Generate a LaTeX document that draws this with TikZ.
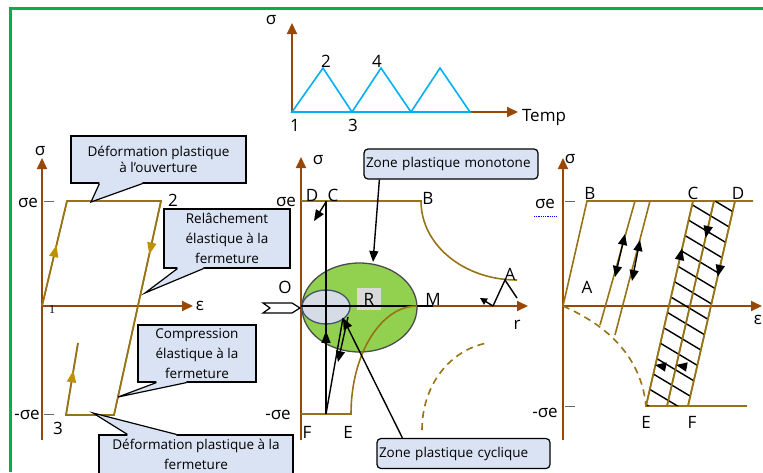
\documentclass[tikz,border=0pt]{standalone}
\usepackage{fontspec}
\setmainfont{Open Sans}
\newfontfamily\numserif{Liberation Serif}
\usetikzlibrary{arrows.meta,decorations.markings}
\definecolor{axbrown}{RGB}{152,72,6}
\definecolor{loopgold}{RGB}{150,115,20}
\definecolor{tipgold}{RGB}{191,144,0}
\definecolor{wave}{RGB}{0,176,240}
\definecolor{framegreen}{RGB}{0,176,80}
\definecolor{callfill}{RGB}{218,227,243}
\definecolor{zonegreen}{RGB}{146,208,80}
\definecolor{zonegray}{RGB}{214,220,229}
\definecolor{slate}{RGB}{68,84,106}

\begin{document}
\begin{tikzpicture}[x=1pt, y=-1pt, every node/.style={font=\fontsize{17}{19}\selectfont, inner sep=0pt}, >={Triangle[length=11pt, width=9pt]},
	axis/.style={draw=axbrown, line width=2pt, -{Triangle[length=11pt, width=10pt]}},
	cyc/.style={draw=loopgold, line width=1.6pt},
	blk/.style={draw=black, line width=1.4pt},
	tick/.style={draw=black!60, line width=1pt},
	bub/.style={draw=black, fill=callfill, line width=1.2pt, align=center, font=\fontsize{13.5}{20}\selectfont},
	zone/.style={bub, rounded corners=4pt, align=left, text width=#1, inner sep=2pt, minimum height=30pt},
	midtip/.style 2 args={postaction={decorate}, decoration={markings, mark=at position #1 with {\arrow{Triangle[length=12pt, width=9pt, color=#2]}}}}]
	\useasboundingbox (0,0) rectangle (763,472);
	\clip (0,0) rectangle (763,472);
	\draw[framegreen, line width=3pt] (10,472) -- (10,8.5) -- (763,8.5);

	\draw[axis] (292,112) -- (292,23);
	\draw[axis] (292,112) -- (518,112);
	\draw[wave, line width=1.6pt] (292,112) -- (323,68) -- (352,112) -- (381,68) -- (411,112) -- (440,68) -- (470,112) -- cycle;
	\node (tsig) at (271,20) {σ};
	\node (ttemp) at (544,117) {Temp};
	\node (t1) at (295,125) {1};
	\node (t2) at (326,61) {2};
	\node (t3) at (353,125) {3};
	\node (t4) at (377,61) {4};

	\draw[axis] (42,440) -- (42,158);
	\draw[axis] (42,306) -- (193,306);
	\draw[tick] (44,201) -- (54,201);
	\draw[tick] (44,414) -- (54,414);
	\draw[cyc] (42,306) -- (67,201) -- (161,201) -- (114,415) -- (66,415) -- (78,343);
	\draw[cyc, midtip={0.58}{tipgold}] (42,306) -- (67,201);
	\draw[cyc, midtip={0.25}{tipgold}] (161,201) -- (114,415);
	\draw[cyc, midtip={0.62}{tipgold}] (66,415) -- (78,343);
	\node (lsig) at (40,151) {σ};
	\node (lse) at (28,203) {σe};
	\node (lmse) at (27,415) {-σe};
	\node (leps) at (200,306) {ε};
	\node (l1) at (52,310) {\numserif\fontsize{12}{12}\selectfont 1};
	\node (l2) at (173,200) {2};
	\node (l3) at (58,428) {3};

	\node[bub, font=\fontsize{13.5}{16}\selectfont, minimum width=175pt, minimum height=47pt] (defouv) at (158.5,159.5) {Déformation plastique\\à l’ouverture};
	\coordinate (defouvtip) at (91,202);
	\fill[callfill] ([xshift=29pt,yshift=2pt]defouv.south west) -- ([xshift=29pt]defouv.south west) -- (defouvtip) -- ([xshift=72pt]defouv.south west) -- ([xshift=72pt,yshift=2pt]defouv.south west) -- cycle;
	\draw[line width=1.2pt] ([xshift=29pt]defouv.south west) -- (defouvtip) -- ([xshift=72pt]defouv.south west);

	\node[bub, minimum width=126pt, minimum height=59pt] (relach) at (227,238.5) {Relâchement\\élastique à la\\fermeture};
	\coordinate (relachtip) at (145,293);
	\fill[callfill] ([xshift=14pt,yshift=2pt]relach.south west) -- ([xshift=14pt]relach.south west) -- (relachtip) -- ([xshift=40pt]relach.south west) -- ([xshift=40pt,yshift=2pt]relach.south west) -- cycle;
	\draw[line width=1.2pt] ([xshift=14pt]relach.south west) -- (relachtip) -- ([xshift=40pt]relach.south west);

	\node[bub, minimum width=118pt, minimum height=57pt] (compr) at (197,353.5) {Compression\\élastique à la\\fermeture};
	\coordinate (comprtip) at (118,397);
	\fill[callfill] ([xshift=19pt,yshift=2pt]compr.south west) -- ([xshift=19pt]compr.south west) -- (comprtip) -- ([xshift=49pt]compr.south west) -- ([xshift=49pt,yshift=2pt]compr.south west) -- cycle;
	\draw[line width=1.2pt] ([xshift=19pt]compr.south west) -- (comprtip) -- ([xshift=49pt]compr.south west);

	\node[bub, minimum width=194pt, minimum height=39pt] (defferm) at (196,454.5) {Déformation plastique à la\\fermeture};
	\coordinate (defferntip) at (93,413);
	\fill[callfill] ([xshift=29pt,yshift=-2pt]defferm.north west) -- ([xshift=29pt]defferm.north west) -- (defferntip) -- ([xshift=78pt]defferm.north west) -- ([xshift=78pt,yshift=-2pt]defferm.north west) -- cycle;
	\draw[line width=1.2pt] ([xshift=29pt]defferm.north west) -- (defferntip) -- ([xshift=78pt]defferm.north west);

	\filldraw[fill=zonegreen, draw=black!70, line width=1.3pt] (359.5,307.5) ellipse [x radius=57.5, y radius=44.5];
	\filldraw[fill=zonegray, draw=slate, line width=1.3pt] (326,307) ellipse [x radius=24, y radius=17];
	\node[fill=black!15, minimum width=24pt, minimum height=22pt] (rr) at (369,299) {R};
	\draw[axis] (301,440) -- (301,157);
	\draw[axis] (301,306) -- (528,306);
	\draw[blk] (301,306) -- (433,306);
	\draw[cyc] (301,201) -- (421,201) .. controls (421,245) and (464,280) .. (517,280);
	\draw[cyc] (301,414) -- (351,414) .. controls (351,354) and (381,306) .. (417,306);
	\draw[cyc, dash pattern=on 7pt off 5pt] (422,430) .. controls (422,385) and (450,350) .. (487,343);
	\draw[blk, midtip={0.39}{black}] (326,414) -- (326,201);
	\draw[blk] (326,414) -- (343,318);
	\draw[blk, ->] (348,317) -- (338,362);
	\draw[blk, ->] (326,202) -- (314,221);
	\draw[blk] (517,298) -- (505,280) -- (493,306);
	\draw[blk, -{Triangle[length=7pt, width=7pt]}] (493,306) -- (480,298);
	\draw[blk, fill=white, line width=1.2pt] (263,303) -- (292,303) -- (300,308) -- (292,313) -- (263,313) -- (270,308) -- cycle;
	\node (msig) at (318,160) {σ};
	\node (mse) at (286,202) {σe};
	\node (mmse) at (278,415) {-σe};
	\node (md) at (312,195) {D};
	\node (mc) at (333,195) {C};
	\node (mb) at (428,198) {B};
	\node (ma) at (510,274) {A};
	\node (mo) at (285,287) {O};
	\node (mm) at (433,299) {M};
	\node (mr) at (517,325) {r};
	\node (mf) at (307,432) {F};
	\node (me) at (348,432) {E};

	\node[zone=170pt] (zmono) at (451,164) {Zone plastique monotone};
	\coordinate (monotip) at (373,262);
	\draw[blk, ->] ([xshift=16pt]zmono.south west) -- (monotip);
	\node[zone=169pt] (zcycl) at (463.5,453.5) {Zone plastique cyclique};
	\coordinate (cyctip) at (343,318);
	\draw[blk, ->] ([xshift=26pt]zcycl.north west) -- (cyctip);

	\draw[axis] (563,440) -- (563,158);
	\draw[axis] (563,306) -- (762,306);
	\draw[tick] (565,201) -- (575,201);
	\draw[tick] (565,406) -- (575,406);
	\draw[cyc] (563,306) -- (587,201) -- (753,201);
	\draw[cyc] (635,201) -- (600,325);
	\draw[cyc] (650,201) -- (615,335);
	\draw[cyc] (693,201) -- (646,406) -- (747,406);
	\draw[cyc] (714,201) -- (667,406);
	\draw[cyc] (735,201) -- (688,406);
	\draw[cyc, dash pattern=on 7pt off 5pt] (563,306) .. controls (590,318) and (640,345) .. (646,406);
	\begin{scope}
		\clip (693,201) -- (735,201) -- (688,406) -- (646,406) -- cycle;
		\foreach \k in {0,...,15}
			\draw[blk] (640,138.5+17.5*\k) -- ++(120,72);
	\end{scope}
	\draw[cyc, midtip={0.77}{black}] (646,406) -- (693,201);
	\draw[cyc, midtip={0.18}{black}] (714,201) -- (667,406);
	\draw[cyc, midtip={0.37}{black}] (735,201) -- (688,406);
	\draw[blk, ->] (666,367) -- (655,365);
	\draw[blk, ->] (687,367) -- (676,365);
	\draw[blk, <->] (625,234) -- (615,277);
	\draw[blk, <->] (640,240) -- (632,281);
	\draw[blue, densely dotted, line width=0.8pt] (534,216) -- (557,216);
	\node (rsig) at (570,159) {σ};
	\node (rse) at (545,204) {σe};
	\node (rmse) at (545,413) {-σe};
	\node (rb) at (590,193) {B};
	\node (rc) at (693,193) {C};
	\node (rd) at (738,193) {D};
	\node (ra) at (587,287) {A};
	\node (re) at (646,422) {E};
	\node (rf) at (692,422) {F};
	\node (reps) at (758,320) {ε};
\end{tikzpicture}
\end{document}
